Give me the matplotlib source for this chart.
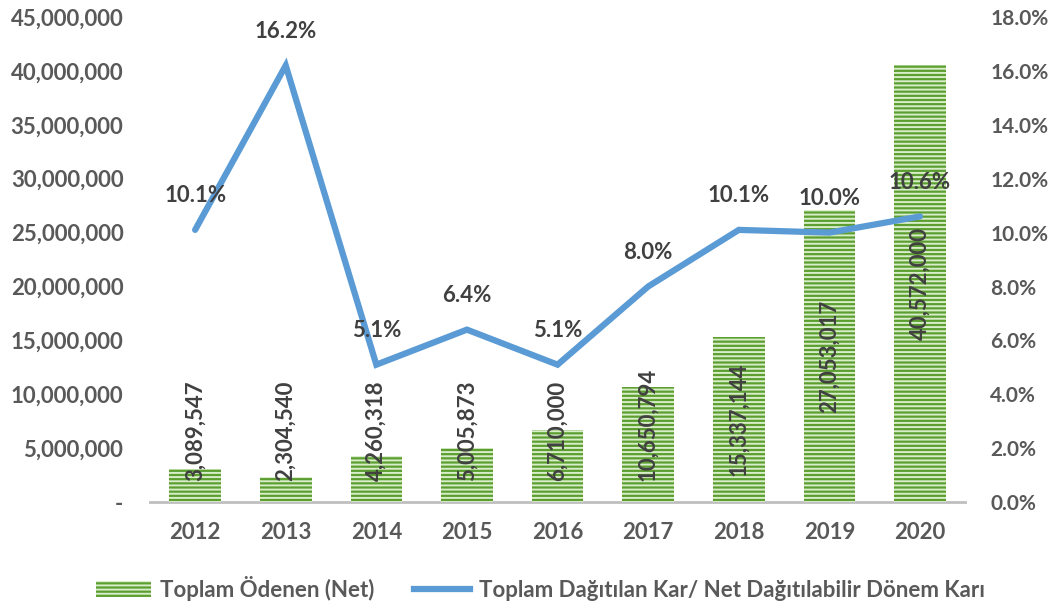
import matplotlib.pyplot as plt
from matplotlib.lines import Line2D
from matplotlib.patches import Patch
from matplotlib.ticker import FuncFormatter

plt.rcParams['font.family'] = ['Lato', 'DejaVu Sans']
plt.rcParams['hatch.linewidth'] = 1.4

# data
years = ['2012', '2013', '2014', '2015', '2016', '2017', '2018', '2019', '2020']
paid_net = [3089547, 2304540, 4260318, 5005873, 6710000, 10650794, 15337144, 27053017, 40572000]
ratio_pct = [10.1, 16.2, 5.1, 6.4, 5.1, 8.0, 10.1, 10.0, 10.6]

bar_label = 'Toplam Ödenen (Net)'
line_label = 'Toplam Dağıtılan Kar/ Net Dağıtılabilir Dönem Karı'

text_col = '#595959'
label_col = '#404040'
green = '#5c9f30'
stripe = '#d8edc9'
blue = '#5b9bd5'
fs = 16

fig = plt.figure(figsize=(10.55, 6.05), dpi=100)
ax = fig.add_axes([0.142, 0.170, 0.773, 0.802])
ax2 = ax.twinx()

x = list(range(len(years)))

# bars: green fill with light horizontal stripes
ax.bar(x, paid_net, width=0.57, color=green, linewidth=0, zorder=2)
ax.bar(x, paid_net, width=0.57, color='none', edgecolor=stripe, hatch='----',
       linewidth=0, zorder=3)

for xi, v in zip(x, paid_net):
    txt = f'{v:,}'
    if v / 2 > 7.0e6:
        ax.text(xi, v / 2, txt, rotation=90, ha='center', va='center',
                fontsize=fs, fontweight='bold', color=label_col, zorder=5)
    else:
        ax.text(xi, 2.0e6, txt, rotation=90, ha='center', va='bottom',
                fontsize=fs, fontweight='bold', color=label_col, zorder=5)

ax.set_xlim(-0.5, 8.5)
ax.set_ylim(0, 45e6)
ax.set_yticks([i * 5e6 for i in range(10)])
ax.yaxis.set_major_formatter(FuncFormatter(lambda v, p: '-' if v == 0 else f'{v:,.0f}'))
ax.set_xticks(x)
ax.set_xticklabels(years)

# line on the secondary axis
ax2.plot(x, ratio_pct, color=blue, linewidth=4.5, solid_capstyle='round',
         solid_joinstyle='miter', zorder=4)
for xi, p in zip(x, ratio_pct):
    ax2.annotate(f'{p:.1f}%', (xi, p), xytext=(0, 34), textcoords='offset pixels',
                 ha='center', va='center', fontsize=fs, fontweight='bold',
                 color=label_col, zorder=6)
ax2.set_ylim(0, 18)
ax2.set_yticks(range(0, 19, 2))
ax2.yaxis.set_major_formatter(FuncFormatter(lambda v, p: f'{v:.1f}%'))

for a in (ax, ax2):
    for s in ('top', 'left', 'right', 'bottom'):
        a.spines[s].set_visible(False)
    a.tick_params(length=0, labelsize=fs, labelcolor=text_col)
ax2.tick_params(axis='y', labelsize=15, pad=18)
for a in (ax, ax2):
    for lab in a.get_yticklabels() + a.get_xticklabels():
        lab.set_fontweight('bold')
ax.spines['bottom'].set_visible(True)
ax.spines['bottom'].set_color('#bfbfbf')
ax.spines['bottom'].set_linewidth(2)
ax.tick_params(axis='y', pad=19)
ax.tick_params(axis='x', pad=14)

handles = [Patch(facecolor=green, edgecolor=stripe, hatch='----', linewidth=0),
           Line2D([0], [0], color=blue, linewidth=4.5)]
leg = fig.legend(handles, [bar_label, line_label], loc='center', bbox_to_anchor=(0.512, 0.028),
                 ncol=2, frameon=False, handlelength=2.5, handleheight=0.7,
                 columnspacing=1.8, handletextpad=0.4,
                 prop={'size': 16, 'weight': 'bold'})
for t in leg.get_texts():
    t.set_color(text_col)

fig.savefig('out.png', dpi=100)
